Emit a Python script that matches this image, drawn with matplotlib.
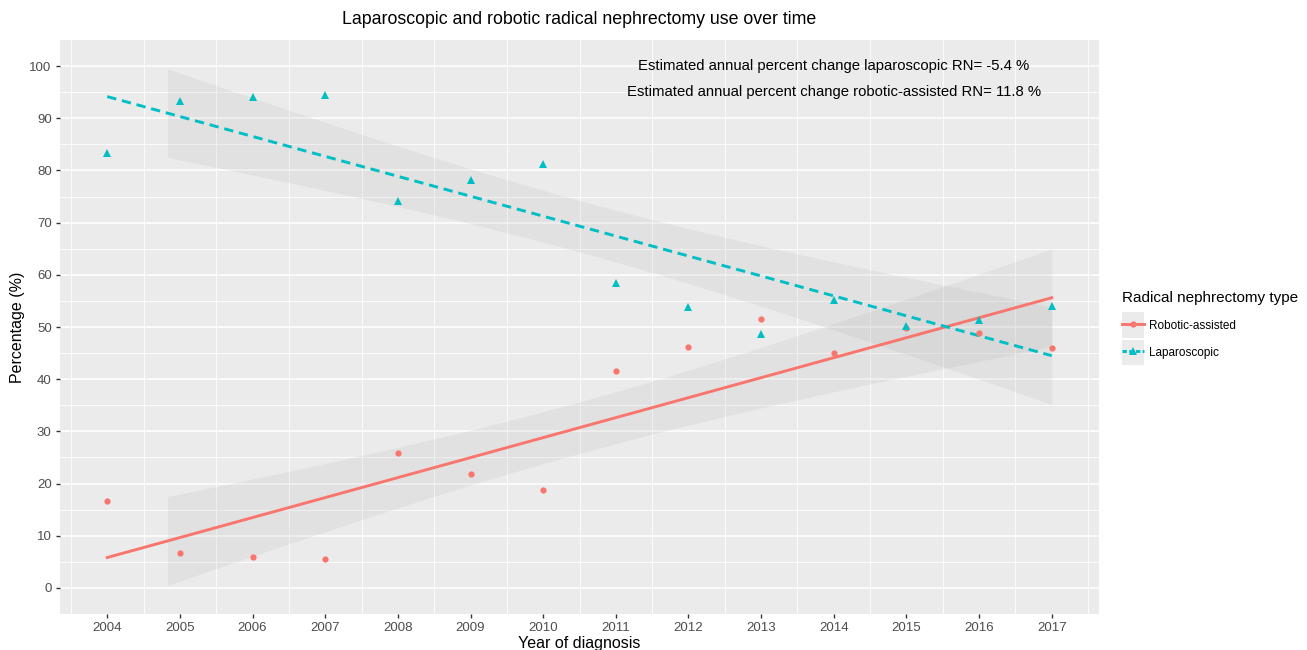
import matplotlib
matplotlib.use("Agg")
import matplotlib.pyplot as plt
from matplotlib.lines import Line2D
from matplotlib.legend_handler import HandlerLine2D
from matplotlib.patches import Rectangle
from matplotlib.ticker import FixedLocator
import numpy as np

# data
years = np.arange(2004, 2018)
robotic = [16.6, 6.7, 5.9, 5.5, 25.8, 21.8, 18.7, 41.6, 46.2, 51.5, 45.0, 49.8, 48.9, 46.0]
laparoscopic = [83.4, 93.3, 94.1, 94.5, 74.2, 78.2, 81.3, 58.4, 53.8, 48.7, 55.2, 50.2, 51.3, 54.0]

series_names = ["Robotic-assisted", "Laparoscopic"]
annotations = [
    "Estimated annual percent change laparoscopic RN= -5.4 %",
    "Estimated annual percent change robotic-assisted RN= 11.8 %",
]

RED = "#F8766D"
TEAL = "#00BFC4"
PANEL = "#EBEBEB"

plt.rcParams["font.family"] = ["Liberation Sans", "DejaVu Sans"]

T_975_DF12 = 2.1788  # t quantile for the 95 % band (n = 14)


def fit_band(x, y, x_band):
    """OLS fit plus 95 % confidence band, like geom_smooth(method='lm')."""
    x = np.asarray(x, float)
    y = np.asarray(y, float)
    slope, icpt = np.polyfit(x, y, 1)
    resid = y - (icpt + slope * x)
    s = np.sqrt(np.sum(resid ** 2) / (len(x) - 2))
    sxx = np.sum((x - x.mean()) ** 2)
    se = s * np.sqrt(1 / len(x) + (x_band - x.mean()) ** 2 / sxx)
    fit = icpt + slope * x_band
    return fit, fit - T_975_DF12 * se, fit + T_975_DF12 * se


class KeyHandler(HandlerLine2D):
    # grey box behind each legend key, ggplot style
    def create_artists(self, legend, orig_handle, xdescent, ydescent,
                       width, height, fontsize, trans):
        arts = super().create_artists(legend, orig_handle, xdescent, ydescent,
                                      width, height, fontsize, trans)
        bg = Rectangle((-xdescent, -ydescent - 4), width, height + 8,
                       facecolor=PANEL, edgecolor="none", transform=trans)
        return [bg] + list(arts)


fig = plt.figure(figsize=(13.07, 6.5), dpi=100)
ax = fig.add_axes([60 / 1307, 1 - 614 / 650, 1039 / 1307, 574 / 650])
ax.set_facecolor(PANEL)

x_line = np.linspace(years[0], years[-1], 100)
x_band = np.linspace(2004.83, years[-1], 100)

for vals, color, ls, marker, ms in [
    (robotic, RED, "-", "o", 4.5),
    (laparoscopic, TEAL, (0, (3.2, 2.0)), "^", 5.5),
]:
    _, lo, hi = fit_band(years, vals, x_band)
    ax.fill_between(x_band, lo, hi, color="#999999", alpha=0.12,
                    linewidth=0, zorder=2)
    fit, _, _ = fit_band(years, vals, x_line)
    ax.plot(x_line, fit, color=color, linestyle=ls, linewidth=2.1, zorder=3)
    ax.plot(years, vals, linestyle="none", marker=marker, markersize=ms,
            color=color, markeredgewidth=0, zorder=4)

ax.set_xlim(2003.35, 2017.65)
ax.set_ylim(-5, 105)
ax.set_xticks(years)
ax.set_yticks(np.arange(0, 101, 10))
ax.yaxis.set_minor_locator(FixedLocator(np.arange(5, 100, 10)))
ax.xaxis.set_minor_locator(FixedLocator(np.arange(2003.5, 2018, 1)))

ax.grid(which="major", axis="y", color="white", linewidth=1.1, zorder=1)
ax.grid(which="minor", axis="both", color="white", linewidth=0.6, zorder=1)
ax.grid(which="major", axis="x", visible=False)
ax.set_axisbelow(True)

for sp in ax.spines.values():
    sp.set_visible(False)
ax.tick_params(which="major", length=3, width=1, color="#333333",
               labelcolor="#4D4D4D", labelsize=9.5, pad=3)
ax.tick_params(which="minor", length=0)

for i, txt in enumerate(annotations):
    ax.text(2014.0, 100.0 - 5.0 * i, txt, ha="center", va="center",
            fontsize=10.7, color="black")

fig.text(579.5 / 1307, 1 - 20 / 650,
         "Laparoscopic and robotic radical nephrectomy use over time",
         ha="center", va="center", fontsize=12.8)
fig.text(18 / 1307, 1 - 327 / 650, "Percentage (%)", rotation=90,
         ha="center", va="center", fontsize=11.5)
fig.text(579.5 / 1307, 1 - 648 / 650, "Year of diagnosis",
         ha="center", va="baseline", fontsize=11.5)

handles = [
    Line2D([], [], color=RED, linestyle="-", linewidth=2.1, marker="o",
           markersize=4.5, markeredgewidth=0),
    Line2D([], [], color=TEAL, linestyle=(0, (1.5, 0.8)), linewidth=2.1,
           marker="^", markersize=5.5, markeredgewidth=0),
]
leg = fig.legend(handles, series_names, loc="upper left",
                 bbox_to_anchor=(1122 / 1307, 1 - 291 / 650),
                 frameon=False, fontsize=8.5, title="Radical nephrectomy type",
                 title_fontsize=11, alignment="left", handlelength=1.9,
                 handleheight=1.5, handletextpad=0.4, labelspacing=1.1,
                 borderpad=0, borderaxespad=0, markerscale=1.0,
                 handler_map={Line2D: KeyHandler(numpoints=1)})

fig.savefig("out.png", dpi=100)
